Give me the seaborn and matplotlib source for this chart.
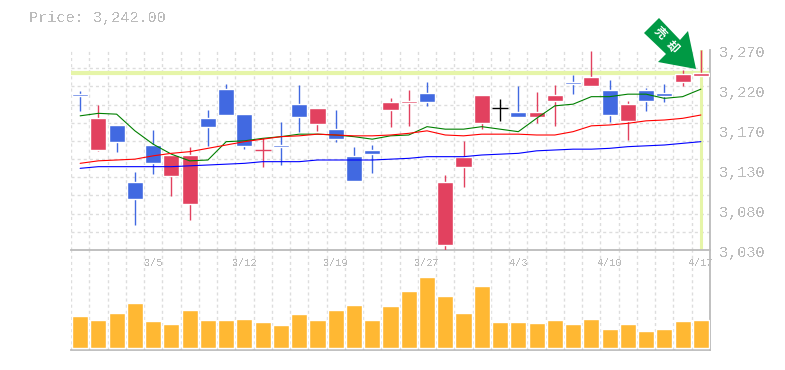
import matplotlib
matplotlib.use('Agg')
import numpy as np
import pandas as pd
import matplotlib.pyplot as plt
import matplotlib.transforms as mtransforms
from matplotlib.patches import Polygon
import seaborn as sns

# values
opens = [3217, 3149.5, 3180, 3112, 3156, 3119, 3085, 3188, 3223, 3193, 3149.5, 3156, 3205, 3181, 3175, 3143, 3150,
         3198, 3206, 3218, 3036, 3130, 3182, 3200, 3196, 3190, 3209, 3232, 3227, 3222, 3185, 3222, 3218, 3232, 3239]
closes = [3215, 3188, 3160, 3091, 3134, 3144, 3144, 3178, 3192, 3155, 3150, 3154, 3190, 3200, 3163, 3113, 3145,
          3208, 3209, 3208, 3112, 3142, 3216, 3200, 3190, 3196, 3216, 3229, 3238, 3192, 3205, 3209, 3215, 3241, 3242]
highs = [3221, 3204, 3180, 3124, 3174, 3144, 3154, 3198, 3229, 3193, 3164, 3184, 3228, 3200, 3198, 3154, 3156,
         3212, 3222, 3232, 3120, 3161, 3216, 3211, 3227, 3220, 3228, 3240, 3269, 3234, 3209, 3224, 3229, 3246, 3270]
lows = [3197, 3149, 3148, 3060, 3121, 3095, 3066, 3155, 3192, 3151, 3130, 3132, 3172, 3173, 3160, 3113, 3122,
        3178, 3179, 3203, 3029, 3106, 3175, 3185, 3190, 3182, 3179, 3217, 3227, 3184, 3162, 3197, 3208, 3227, 3239]
ma_short = [3191, 3194, 3193, 3173, 3157, 3145, 3137, 3138, 3160, 3161, 3164, 3166, 3169, 3169, 3168, 3166, 3163,
            3167, 3168, 3178, 3175, 3175, 3178, 3175, 3172, 3188, 3203, 3205, 3214, 3214, 3217, 3217, 3212, 3214, 3223]
ma_mid = [3134, 3137, 3138, 3139, 3143, 3146, 3148, 3152, 3156, 3160, 3163, 3166, 3167, 3169, 3168, 3167, 3167,
          3168, 3170, 3173, 3168, 3167, 3169, 3169, 3169, 3168, 3168, 3172, 3179, 3180, 3182, 3185, 3186, 3188, 3192]
ma_long = [3128, 3130, 3130, 3130, 3130, 3130, 3131, 3132, 3133, 3134, 3136, 3136, 3136, 3138, 3138, 3138, 3138,
           3139, 3140, 3142, 3142, 3142, 3144, 3145, 3146, 3149, 3150, 3151, 3151, 3152, 3154, 3155, 3156, 3158, 3160]
volume = [32, 28, 35, 45, 27, 24, 38, 28, 28, 29, 26, 23, 34, 28, 38, 43, 28, 42, 57, 71, 52, 35, 62,
          26, 26, 25, 28, 24, 29, 19, 24, 17, 19, 27, 28]
date_pos = [4, 9, 14, 19, 24, 29, 34]
date_labels = ['3/5', '3/12', '3/19', '3/27', '4/3', '4/10', '4/17']
price_ticks = [3270, 3222, 3174, 3126, 3078, 3030]
price_labels = ['3,270', '3,220', '3,170', '3,130', '3,080', '3,030']
last_price = 3242

df = pd.DataFrame({'day': np.arange(len(opens)), 'open': opens, 'close': closes, 'high': highs, 'low': lows,
                   'ma_short': ma_short, 'ma_mid': ma_mid, 'ma_long': ma_long, 'volume': volume})

RED = '#E2415F'
BLUE = '#4169E1'
GRAY = '#BBBBBB'
GRID = '#DDDDDD'

sns.set_theme(style='white')
plt.rcParams['font.family'] = ['Liberation Mono', 'DejaVu Sans Mono']
plt.rcParams['text.antialiased'] = False

fig = plt.figure(figsize=(7.85, 3.7), dpi=100)
# px -> figure fractions
ax = fig.add_axes([71 / 785, 1 - 250 / 370, 639 / 785, 200 / 370])
ax2 = fig.add_axes([71 / 785, 1 - 350 / 370, 639 / 785, 100 / 370])

# last price cross
ax.axhline(last_price, color='#E6F5A8', lw=3, zorder=1)
ax.axvline(df['day'].iloc[-1], color='#E6F5A8', lw=2.2, zorder=1)

# candles
for row in df.itertuples():
    if row.close > row.open:
        c = RED
    elif row.close < row.open:
        c = BLUE
    else:
        c = 'black'
    ax.vlines(row.day, row.low, row.high, color=c, lw=1, zorder=3)
    if abs(row.close - row.open) <= 1:
        # doji, just a thin line
        ax.hlines(row.close, row.day - 0.44, row.day + 0.44, color=c, lw=1, zorder=3)
    else:
        ax.bar(row.day, abs(row.close - row.open), bottom=min(row.open, row.close), width=0.88,
               color=c, zorder=3, snap=True)

# moving averages
sns.lineplot(data=df, x='day', y='ma_short', color='green', lw=0.8, ax=ax, zorder=4)
sns.lineplot(data=df, x='day', y='ma_mid', color='red', lw=0.8, ax=ax, zorder=4)
sns.lineplot(data=df, x='day', y='ma_long', color='blue', lw=0.8, ax=ax, zorder=4)

ax.set_xlim(-0.5, len(opens) - 0.5)
ax.set_ylim(3030, 3270)
ax.set_xlabel('')
ax.set_ylabel('')
ax.set_xticks(np.arange(-0.5, len(opens)), minor=True)
ax.set_yticks(np.linspace(3030, 3270, 12), minor=True)
ax.set_xticks(date_pos, date_labels)
ax.yaxis.tick_right()
ax.set_yticks(price_ticks, price_labels)
ax.grid(which='minor', color=GRID, ls=(0, (2.2, 2.2)), lw=1)
ax.grid(which='major', visible=False)
ax.set_axisbelow(True)
ax.tick_params(which='both', length=0)
ax.tick_params(axis='x', labelsize=7.4, labelcolor=GRAY, pad=6)
ax.tick_params(axis='y', labelsize=11, labelcolor=GRAY, pad=6.5)
shift = mtransforms.ScaledTranslation(0, -2 / 100, fig.dpi_scale_trans)
for lab in ax.get_yticklabels():
    lab.set_transform(lab.get_transform() + shift)
for name, sp in ax.spines.items():
    sp.set_visible(name in ('bottom', 'right'))
    sp.set_color(GRAY)
    sp.set_linewidth(1.3)

# volume
ax2.set_facecolor('none')
sns.barplot(data=df, x='day', y='volume', color='#FFB833', saturation=1, width=0.88, native_scale=True, ax=ax2, zorder=3)
ax2.set_xlim(-0.5, len(opens) - 0.5)
ax2.set_ylim(-1.6, 98.4)
ax2.set_xlabel('')
ax2.set_ylabel('')
ax2.set_yticks([])
ax2.set_xticks(np.arange(-0.5, len(opens)), minor=True)
ax2.set_xticks([])
ax2.grid(which='minor', axis='x', color=GRID, ls=(0, (2.2, 2.2)), lw=1)
ax2.set_axisbelow(True)
ax2.tick_params(which='both', length=0)
for name, sp in ax2.spines.items():
    sp.set_visible(name in ('bottom', 'right'))
    sp.set_color(GRAY)
    sp.set_linewidth(1.3)
ax.set_zorder(ax2.get_zorder() + 1)
ax.patch.set_alpha(0)

# title price
fig.text(29 / 785, 1 - 18 / 370, f'Price: {last_price:,.2f}', color=GRAY, fontsize=11, va='center', ha='left')

# signal arrow, pixel outline from the picture
arrow_px = [(659, 18), (644, 33), (666, 54), (658, 62), (696, 69), (688, 31), (680, 40)]
arrow_fig = [(x / 785, 1 - y / 370) for x, y in arrow_px]
fig.add_artist(Polygon(arrow_fig, closed=True, transform=fig.transFigure, facecolor='#009944', edgecolor='none', zorder=6))
for ch, px, py in [('売', 660, 33), ('却', 672, 47)]:
    fig.text(px / 785, 1 - py / 370, ch, color='white', fontsize=8.5, rotation=-45, rotation_mode='anchor',
             ha='center', va='center', family=['Noto Sans CJK JP', 'DejaVu Sans'], fontweight='bold',
             antialiased=True, zorder=7)

fig.savefig('out.png', dpi=100)
